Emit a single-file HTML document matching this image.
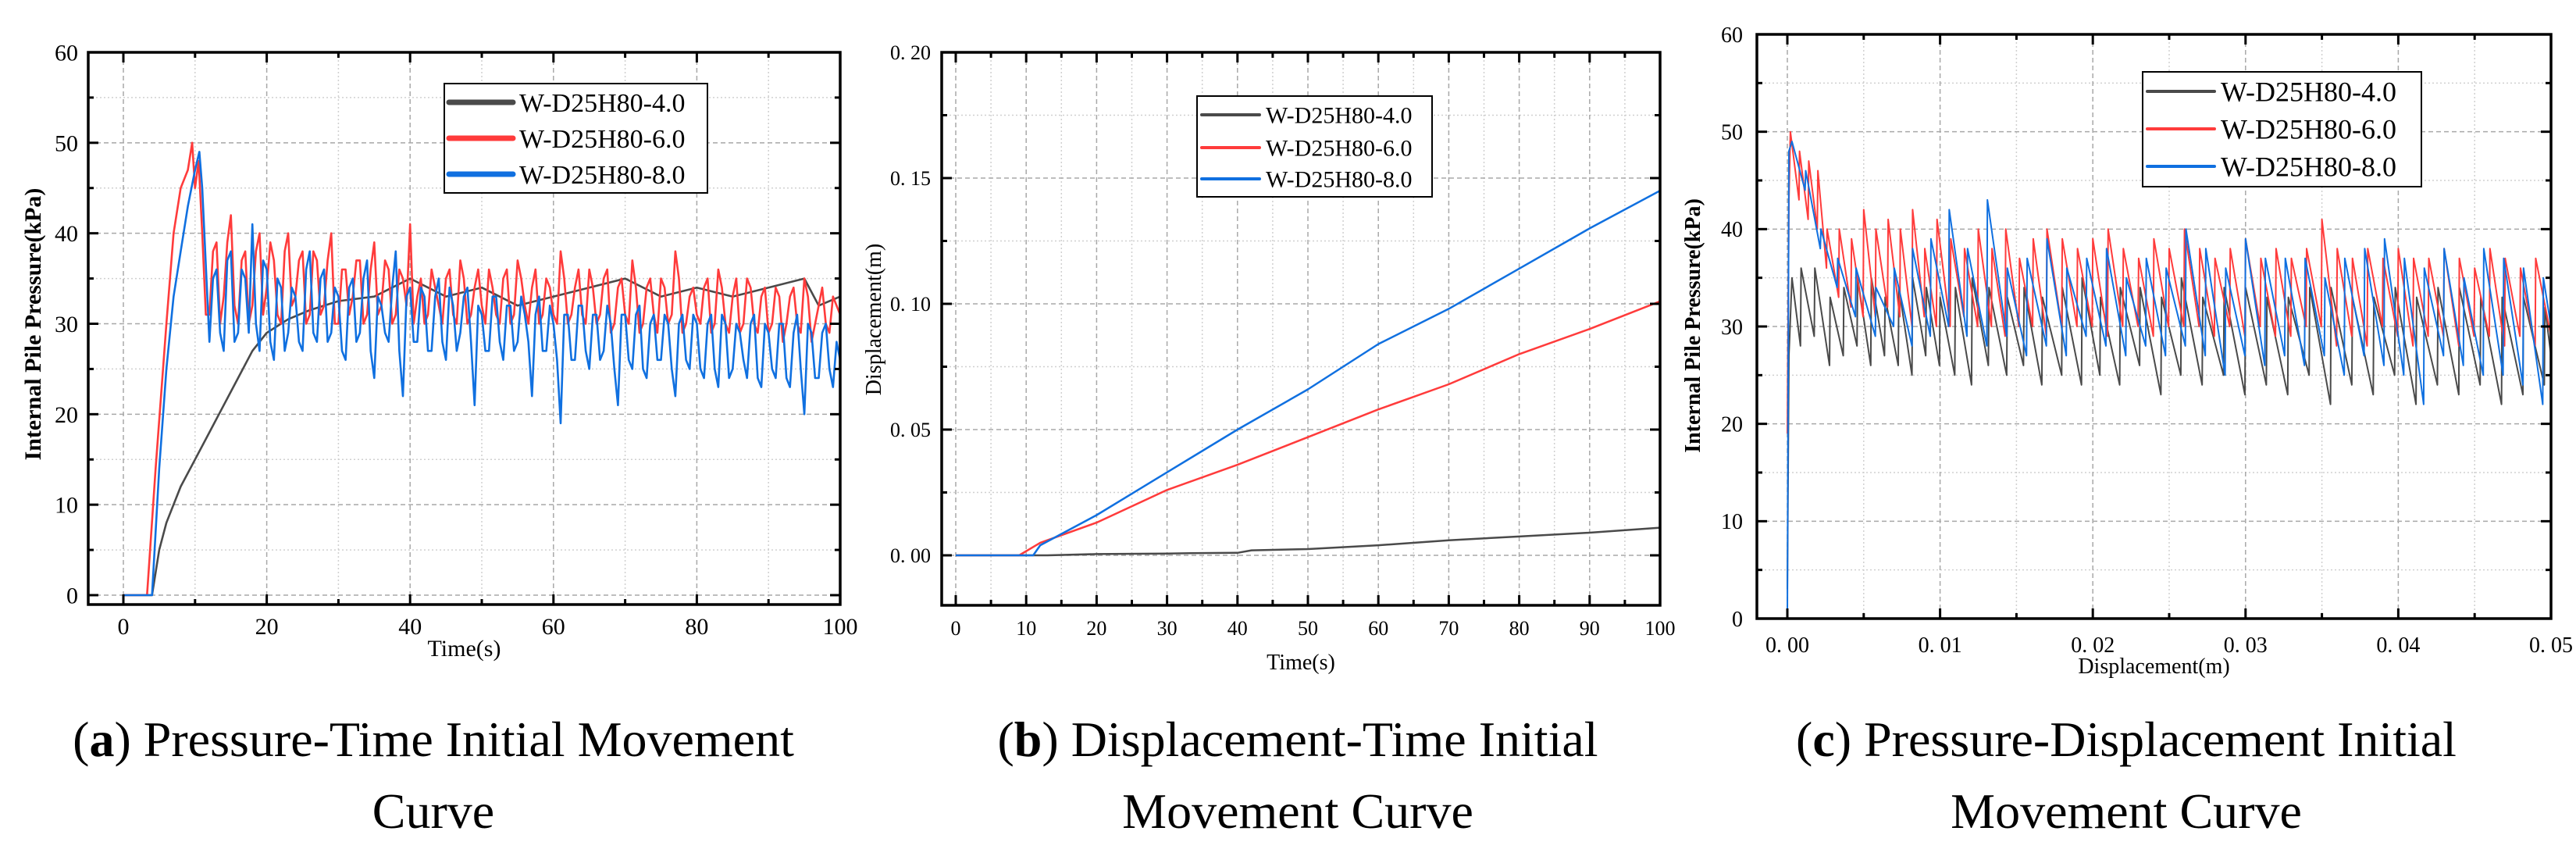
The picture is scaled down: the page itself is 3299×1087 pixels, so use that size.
<!DOCTYPE html>
<html><head><meta charset="utf-8"><style>
html,body{margin:0;padding:0;background:#fff;}
svg{display:block;font-family:"Liberation Serif",serif;}
</style></head><body>
<svg id="fig" width="3299" height="1087" viewBox="0 0 3299 1087" xmlns="http://www.w3.org/2000/svg">
<rect x="0" y="0" width="3299" height="1087" fill="#fff"/>
<g id="pa"></g>
<g id="pb"></g>
<g id="pc"></g>
<g font-size="64" fill="#000">
<text x="555" y="968" text-anchor="middle">(<tspan font-weight="bold">a</tspan>) Pressure-Time Initial Movement</text>
<text x="555" y="1060" text-anchor="middle">Curve</text>
<text x="1662" y="968" text-anchor="middle">(<tspan font-weight="bold">b</tspan>) Displacement-Time Initial</text>
<text x="1662" y="1060" text-anchor="middle">Movement Curve</text>
<text x="2723" y="968" text-anchor="middle">(<tspan font-weight="bold">c</tspan>) Pressure-Displacement Initial</text>
<text x="2723" y="1060" text-anchor="middle">Movement Curve</text>
</g>
</svg>
<script>
// ---------- Panel A data ----------
const seriesNames = ["W-D25H80-4.0","W-D25H80-6.0","W-D25H80-8.0"];
const aGrayT = [0,4,5,6,8,10,12,14,16,18,20,23,26,30,35,40,45,50,55,60,65,70,75,80,85,90,95,97,100];
const aGrayP = [0,0,5,8,12,15,18,21,24,27,29,30.5,31.5,32.5,33,35,33,34,32,33,34,35,33,34,33,34,35,32,33];
const aRedRiseT = [0,3.3,4.5,6,7,8,9,9.6,10,10.5];
const aRedRiseP = [0,0,14,30,40,45,47,50,45,48];
const aRedNoise = [40,31,39,33,42,30,38,32,40,34, 37,30,40,33,38,31,37,32,40,30, 36,33,37,31,39,32,36,31,35,41, 33,30,36,32,35,31,37,30,34,32, 36,31,35,30,37,32,34,30,35,31, 38,30,34,31,36,30,35,29,34,31, 37,29,34,31,35,30,38,29,33,31, 34,29,36,30,33,29,35,30,33,29, 34,28,33,30,35,28,32,30,33,31];
const aRedMid = [31,38,30,39,32,37,30,38,31,39, 31,38,32,37,30,38,31,37,30,36, 31,37,30,36,31,37,30,36,32,30, 35,31,34,30,36,30,35,31,36,30, 34,30,36,31,35,30,36,31,34,30, 35,31,36,30,34,31,36,30,35,30, 34,30,35,29,34,31,35,30,34,30, 35,30,34,29,35,30,34,29,34,30, 33,30,34,29,33,30,34,29,32];
const aRedNoiseStart = 11;
const aBlueRiseT = [0,4,5,6,7,8,9,10,10.6,11];
const aBlueRiseP = [0,0,14,25,33,38,43,47,49,45];
const aBlueNoise = [28,36,27,38,29,35,41,27,36, 26,34,29,33,27,38,28,36,29,33, 26,35,29,37,24,32,28,38,22,34, 28,33,27,35,26,32,29,34,21,31, 27,33,26,32,28,31,22,33,27,30, 19,31,26,32,25,31,27,30,21,31, 25,32,24,31,26,30,22,31,25,30, 24,31,23,30,25,29,24,31,23,29, 24,30,23,31,20,29,24,30,23,26];
const aBlueMid = [35,29,37,28,36,29,30,37,28, 35,27,34,28,36,29,35,28,34,27, 34,28,35,27,33,29,34,27,33,28, 34,27,33,28,34,27,33,28,32,27, 33,28,32,27,33,28,31,27,32,26, 31,26,32,27,31,26,32,25,31,26, 31,25,30,26,31,25,30,26,31,25, 30,25,31,24,30,26,30,24,30,25, 30,24,29,25,30,24,29,25,28];
const aBlueNoiseStart = 12;
// ---------- Panel B data ----------
const bGrayT = [0,13,20,30,35,40,42,50,60,70,80,90,100];
const bGrayD = [0,0,0.0005,0.0007,0.0009,0.001,0.002,0.0025,0.004,0.006,0.0075,0.009,0.011];
const bRedT = [0,9,12,20,30,40,50,60,70,80,90,100];
const bRedD = [0,0,0.005,0.013,0.026,0.036,0.047,0.058,0.068,0.080,0.090,0.101];
const bBlueT = [0,11,12,20,30,40,50,60,70,80,90,100];
const bBlueD = [0,0,0.004,0.016,0.033,0.050,0.066,0.084,0.098,0.114,0.130,0.145];
// ---------- Panel C data ----------
const cGrayStartX = [0,0.0001]; const cGrayStartP = [3,27];
const cGrayX = [0.0003,0.0009,0.0018,0.0028,0.0037,0.0046,0.0055,0.0064,0.0073,0.0082,0.0091,0.0100,0.0110,0.0121,0.0132,0.0144,0.0155,0.0167,0.0180,0.0193,0.0205,0.0218,0.0231,0.0245,0.0258,0.0272,0.0286,0.0300,0.0314,0.0328,0.0342,0.0356,0.0370,0.0384,0.0398,0.0412,0.0426,0.0440,0.0454,0.0468,0.0482,0.0496];
const cGrayPeak = [35,36,36,33,34,35,35,33,34,35,34,33,34,35,34,33,34,33,34,35,33,34,34,33,35,33,34,34,33,33,34,34,33,33,34,33,34,34,33,33,33,32];
const cGrayTrough = [28,29,26,27,28,26,27,26,25,27,26,25,24,26,25,26,24,25,24,25,24,26,23,25,24,25,23,24,23,25,22,24,23,25,22,24,23,24,22,23,24,27];
const cRedStartX = [0,0.0001]; const cRedStartP = [19,43];
const cRedX = [0.0002,0.0008,0.0014,0.0020,0.0026,0.0034,0.0042,0.0050,0.0058,0.0066,0.0074,0.0082,0.0090,0.0098,0.0107,0.0116,0.0125,0.0134,0.0143,0.0152,0.0161,0.0170,0.0180,0.0190,0.0200,0.0210,0.0220,0.0230,0.0240,0.0250,0.0260,0.0270,0.0280,0.0290,0.0300,0.0310,0.0320,0.0330,0.0340,0.0350,0.0360,0.0370,0.0380,0.0390,0.0400,0.0410,0.0420,0.0430,0.0440,0.0450,0.0460,0.0470,0.0480,0.0490];
const cRedPeak = [50,48,47,46,40,40,39,42,40,41,40,42,38,41,39,38,40,38,40,37,39,40,39,38,39,40,38,37,39,38,40,38,37,38,39,37,38,37,38,41,38,37,38,37,38,37,37,38,37,36,38,37,36,37];
const cRedTrough = [43,41,40,36,33,32,31,31,32,31,30,31,30,30,31,30,30,29,30,30,29,30,30,30,29,30,30,29,30,30,30,29,30,29,30,29,29,30,30,28,29,28,30,29,28,29,29,28,29,29,28,29,28,29];
const cBlueStartX = [0,0.0001]; const cBlueStartP = [0,48];
const cBlueX = [0.0003,0.0012,0.0022,0.0033,0.0045,0.0058,0.0070,0.0082,0.0094,0.0106,0.0118,0.0131,0.0144,0.0157,0.0170,0.0183,0.0196,0.0209,0.0222,0.0235,0.0248,0.0261,0.0274,0.0287,0.0300,0.0313,0.0326,0.0339,0.0352,0.0365,0.0378,0.0391,0.0404,0.0417,0.0430,0.0443,0.0456,0.0469,0.0482,0.0495];
const cBluePeak = [49,46,40,37,36,34,36,38,39,42,38,43,36,37,39,36,37,38,35,37,36,40,38,36,39,37,37,37,35,37,38,39,37,36,38,35,38,37,36,35];
const cBlueTrough = [44,38,34,31,29,30,28,29,30,29,28,29,27,28,27,29,28,27,28,27,28,27,25,27,26,27,26,27,25,27,26,25,22,27,26,25,25,24,22,30];
// tick labels
const aXTicks = [0,20,40,60,80,100]; const aYTicks = [0,10,20,30,40,50,60];
const bXTicks = [0,10,20,30,40,50,60,70,80,90,100]; const bYTicks = [0,0.05,0.10,0.15,0.20];
const bYLabels = ["0. 00","0. 05","0. 10","0. 15","0. 20"];
const cXTicks = [0,0.01,0.02,0.03,0.04,0.05]; const cXLabels = ["0. 00","0. 01","0. 02","0. 03","0. 04","0. 05"];
const cYTicks = [0,10,20,30,40,50,60];

const NS="http://www.w3.org/2000/svg";
const COL=["#4a4a4a","#ff3b3b","#1070e0"];
function mk(parent,tag,attrs){const e=document.createElementNS(NS,tag);for(const k in attrs)e.setAttribute(k,attrs[k]);parent.appendChild(e);return e;}

function buildPanel(g,cfg){
  const sx=v=>cfg.x0+(v-cfg.xmin)/(cfg.xmax-cfg.xmin)*(cfg.x1-cfg.x0);
  const sy=v=>cfg.y1-(v-cfg.ymin)/(cfg.ymax-cfg.ymin)*(cfg.y1-cfg.y0);
  const L=cfg.box[0],T=cfg.box[1],R=cfg.box[2],B=cfg.box[3];
  const grid=mk(g,'g',{});
  
  
  cfg.xMinor.forEach(v=>mk(grid,'line',{x1:sx(v),x2:sx(v),y1:T,y2:B,stroke:'#d0d0d0','stroke-width':1.5,'stroke-dasharray':'2 3'}));
  cfg.yMinor.forEach(v=>mk(grid,'line',{x1:L,x2:R,y1:sy(v),y2:sy(v),stroke:'#d0d0d0','stroke-width':1.5,'stroke-dasharray':'2 3'}));
  cfg.xTicks.forEach(v=>mk(grid,'line',{x1:sx(v),x2:sx(v),y1:T,y2:B,stroke:'#a8a8a8','stroke-width':1.5,'stroke-dasharray':'6 4'}));
  cfg.yTicks.forEach(v=>mk(grid,'line',{x1:L,x2:R,y1:sy(v),y2:sy(v),stroke:'#a8a8a8','stroke-width':1.5,'stroke-dasharray':'6 4'}));
  const ser=mk(g,'g',{'stroke-linejoin':'round',fill:'none'});
  
  
  cfg.series.forEach((s,i)=>{
    const d=s.pts.map((p,j)=>(j?'L':'M')+sx(p[0]).toFixed(1)+' '+sy(p[1]).toFixed(1)).join(' ');
    const p=mk(ser,'path',{d:d,stroke:COL[i],'stroke-width':cfg.lw});
    
    
  });
  const ax=mk(g,'g',{stroke:'#000'});
  
  
  mk(ax,'rect',{x:L,y:T,width:R-L,height:B-T,fill:'none','stroke-width':3.5});
  const tk=(v,len,isX)=>{ if(isX){const x=sx(v);mk(ax,'line',{x1:x,x2:x,y1:B,y2:B-len,'stroke-width':3});mk(ax,'line',{x1:x,x2:x,y1:T,y2:T+len,'stroke-width':3});}
    else{const y=sy(v);mk(ax,'line',{x1:L,x2:L+len,y1:y,y2:y,'stroke-width':3});mk(ax,'line',{x1:R,x2:R-len,y1:y,y2:y,'stroke-width':3});}};
  cfg.xTicks.forEach(v=>tk(v,13,true)); cfg.xMinor.forEach(v=>tk(v,7,true));
  cfg.yTicks.forEach(v=>tk(v,13,false)); cfg.yMinor.forEach(v=>tk(v,7,false));
  const lab=mk(g,'g',{fill:'#000','font-size':cfg.fs});
  
  
  cfg.xTicks.forEach((v,i)=>{const t=mk(lab,'text',{x:sx(v),y:cfg.xLabY,'text-anchor':'middle'});t.textContent=cfg.xLabels?cfg.xLabels[i]:String(v);
    
    });
  cfg.yTicks.forEach((v,i)=>{const t=mk(lab,'text',{x:cfg.yLabX,y:sy(v)+cfg.fs*0.35,'text-anchor':'end'});t.textContent=cfg.yLabels?cfg.yLabels[i]:String(v);
    
    });
  const xt=mk(g,'text',{x:(L+R)/2,y:cfg.xTitleY,'text-anchor':'middle','font-size':cfg.tfs});
  xt.textContent=cfg.xTitle;
  
  
  const yt=mk(g,'text',{x:0,y:0,'text-anchor':'middle','font-size':cfg.tfs,'font-weight':cfg.ytBold?'bold':'normal',transform:`translate(${cfg.yTitlePos[0]},${cfg.yTitlePos[1]}) rotate(-90)`});
  yt.textContent=cfg.yTitle;
  
  
  const lg=mk(g,'g',{});
  
  
  const [lx0,ly0,lx1,ly1]=cfg.legend;
  mk(lg,'rect',{x:lx0,y:ly0,width:lx1-lx0,height:ly1-ly0,fill:'#fff',stroke:'#000','stroke-width':2});
  cfg.legYs.forEach((y,i)=>{
    const e=mk(lg,'g',{});
    
    
    mk(e,'line',{x1:lx0+6,x2:lx0+cfg.legLine,y1:y,y2:y,stroke:COL[i],'stroke-width':cfg.legLw,'stroke-linecap':'round'});
    const t=mk(e,'text',{x:lx0+cfg.legLine+8,y:y+cfg.legFs*0.35,'font-size':cfg.legFs});
    t.textContent=seriesNames[i];
  });
}
function noisePts(riseT,riseP,noise,mid,start){const p=riseT.map((t,i)=>[t,riseP[i]]);noise.forEach((v,i)=>{p.push([start+i,v]);if(i<mid.length)p.push([start+i+0.5,mid[i]]);});return p;}
function zipPts(xs,ys){return xs.map((x,i)=>[x,ys[i]]);}
function sawPts(sx,sp,xs,pk,tr){const p=zipPts(sx,sp);for(let i=0;i<xs.length;i++){p.push([xs[i],pk[i]]);const nx=i+1<xs.length?xs[i+1]-0.00004:0.05;p.push([nx,tr[i]]);}return p;}

buildPanel(document.getElementById('pa'),{
  box:[113,67,1076,774],x0:158,x1:1076,xmin:0,xmax:100,y0:67,y1:762,ymin:0,ymax:60,
  xTicks:aXTicks,xMinor:[10,30,50,70,90],yTicks:aYTicks,yMinor:[5,15,25,35,45,55],
  fs:30,tfs:30,xLabY:812,yLabX:100,xTitle:'Time(s)',xTitleY:840,yTitle:'Internal Pile Pressure(kPa)',yTitlePos:[52,415],ytBold:true,lw:2.6,
  series:[{pts:zipPts(aGrayT,aGrayP)},{pts:noisePts(aRedRiseT,aRedRiseP,aRedNoise,aRedMid,aRedNoiseStart)},{pts:noisePts(aBlueRiseT,aBlueRiseP,aBlueNoise,aBlueMid,aBlueNoiseStart)}],
  legend:[569,107,906,247],legYs:[131,177,223],legLine:88,legLw:7,legFs:34});
buildPanel(document.getElementById('pb'),{
  box:[1206,67,2126,775],x0:1224,x1:2126,xmin:0,xmax:100,y0:67,y1:711,ymin:0,ymax:0.2,
  xTicks:bXTicks,xMinor:[5,15,25,35,45,55,65,75,85,95],yTicks:bYTicks,yMinor:[0.025,0.075,0.125,0.175],yLabels:bYLabels,
  fs:26,tfs:28,xLabY:813,yLabX:1192,xTitle:'Time(s)',xTitleY:857,yTitle:'Displacement(m)',yTitlePos:[1128,409],ytBold:false,lw:2.5,
  series:[{pts:zipPts(bGrayT,bGrayD)},{pts:zipPts(bRedT,bRedD)},{pts:zipPts(bBlueT,bBlueD)}],
  legend:[1533,123,1834,252],legYs:[147,189,229],legLine:80,legLw:4,legFs:30});
buildPanel(document.getElementById('pc'),{
  box:[2250,44,3267,792],x0:2289,x1:3267,xmin:0,xmax:0.05,y0:44,y1:792,ymin:0,ymax:60,
  xTicks:cXTicks,xMinor:[0.005,0.015,0.025,0.035,0.045],yTicks:cYTicks,yMinor:[5,15,25,35,45,55],xLabels:cXLabels,
  fs:28,tfs:28,xLabY:835,yLabX:2232,xTitle:'Displacement(m)',xTitleY:862,yTitle:'Internal Pile Pressure(kPa)',yTitlePos:[2177,417],ytBold:true,lw:2,
  series:[{pts:sawPts(cGrayStartX,cGrayStartP,cGrayX,cGrayPeak,cGrayTrough)},{pts:sawPts(cRedStartX,cRedStartP,cRedX,cRedPeak,cRedTrough)},{pts:sawPts(cBlueStartX,cBlueStartP,cBlueX,cBluePeak,cBlueTrough)}],
  legend:[2744,92,3101,239],legYs:[117,165,213],legLine:92,legLw:4,legFs:36});
</script>
</body></html>
